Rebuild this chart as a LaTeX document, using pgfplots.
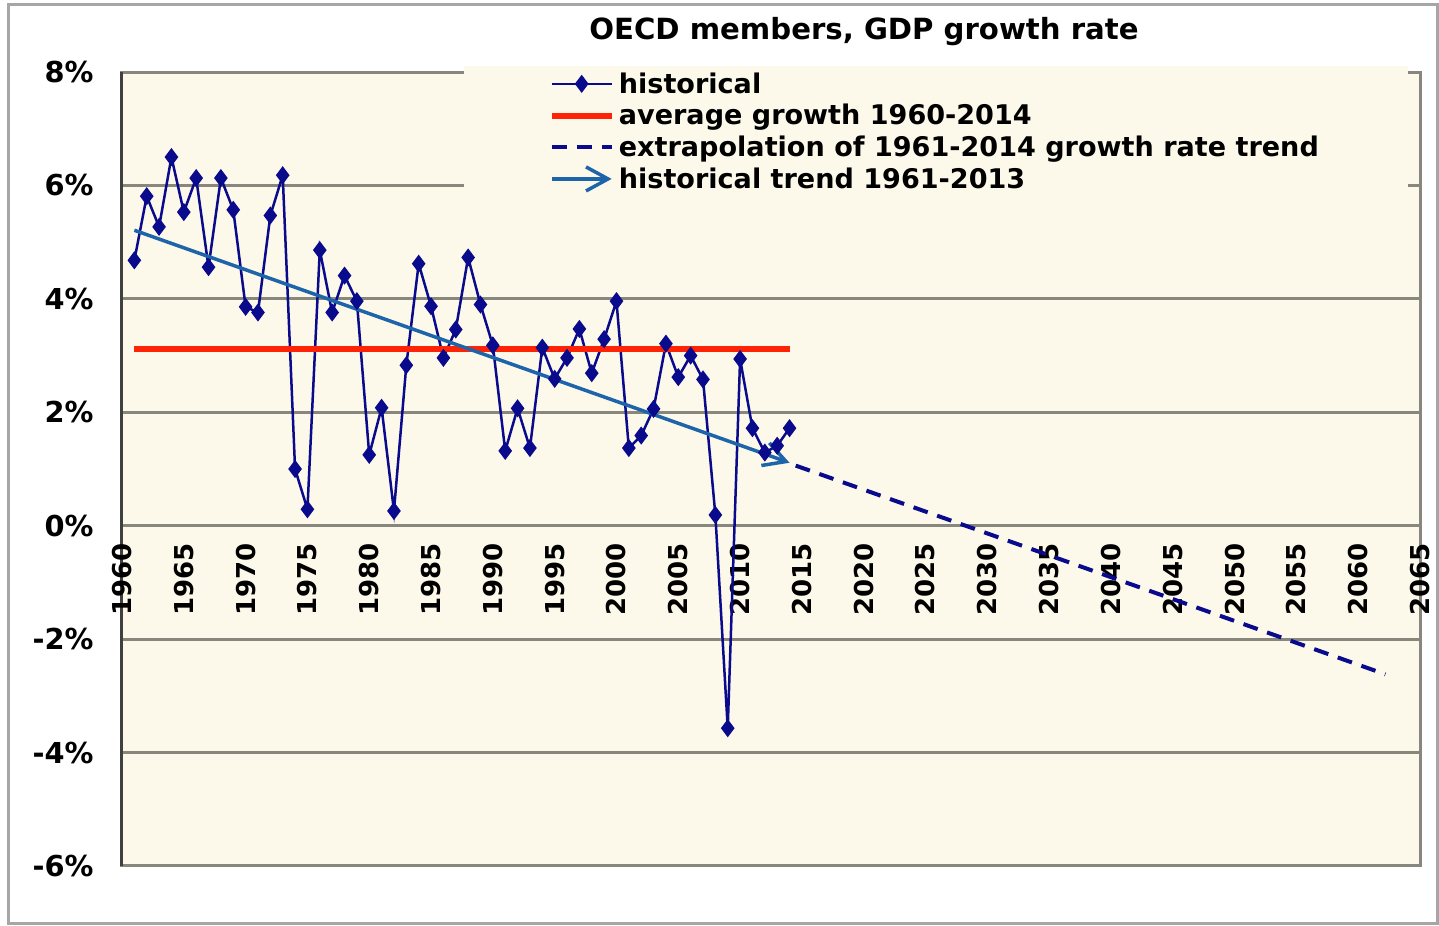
\documentclass[border=0pt]{standalone}
\usepackage{fontspec}
\setmainfont{DejaVu Sans}
\usepackage{pgfplots}
\pgfplotsset{compat=1.18}
\usetikzlibrary{arrows.meta}

\definecolor{navy}{RGB}{10,10,140}
\definecolor{avgred}{RGB}{255,35,5}
\definecolor{trendblue}{RGB}{30,100,170}
\definecolor{cream}{RGB}{253,249,234}
\definecolor{gridgray}{RGB}{135,135,125}

\pgfplotstableread{
year growth
1961 4.68
1962 5.81
1963 5.27
1964 6.50
1965 5.53
1966 6.13
1967 4.56
1968 6.13
1969 5.57
1970 3.86
1971 3.76
1972 5.47
1973 6.18
1974 1.00
1975 0.29
1976 4.86
1977 3.76
1978 4.41
1979 3.96
1980 1.25
1981 2.08
1982 0.26
1983 2.83
1984 4.62
1985 3.87
1986 2.96
1987 3.46
1988 4.73
1989 3.90
1990 3.18
1991 1.32
1992 2.07
1993 1.37
1994 3.14
1995 2.59
1996 2.96
1997 3.47
1998 2.69
1999 3.29
2000 3.96
2001 1.37
2002 1.59
2003 2.06
2004 3.21
2005 2.62
2006 3.00
2007 2.58
2008 0.19
2009 -3.57
2010 2.94
2011 1.72
2012 1.29
2013 1.41
2014 1.72
}\gdp

\begin{document}
\begin{tikzpicture}
\useasboundingbox (0,0) rectangle (143.9mm,92.6mm);
\draw[gray!70, line width=0.3mm] (0.9mm,0.2mm) rectangle (143.7mm,92.1mm);
\node[font=\bfseries\fontsize{8.3}{10}\selectfont] at (86.4mm,89.4mm) {OECD members, GDP growth rate};

\begin{axis}[
  at={(12.2mm,6.0mm)}, anchor=south west,
  scale only axis, width=129.8mm, height=79.4mm,
  xmin=1960, xmax=2065, ymin=-6, ymax=8,
  axis x line=middle, axis y line=left,
  axis line style={-},
  hide obscured x ticks=false,
  x axis line style={draw=gridgray, line width=0.3mm},
  y axis line style={draw=black!75, line width=0.3mm},
  axis background/.style={fill=cream, draw=gridgray, line width=0.3mm},
  ymajorgrids, grid style={gridgray, line width=0.3mm},
  major tick length=0pt,
  xtick={1960,1965,...,2065},
  xticklabels={1960,1965,1970,1975,1980,1985,1990,1995,2000,2005,2010,2015,2020,2025,2030,2035,2040,2045,2050,2055,2060,2065},
  ytick={-6,-4,-2,0,2,4,6,8},
  yticklabels={-6\%,-4\%,-2\%,0\%,2\%,4\%,6\%,8\%},
  x tick label style={rotate=90, anchor=east, font=\bfseries\fontsize{7.4}{8}\selectfont, xshift=-0.5mm},
  y tick label style={font=\bfseries\fontsize{8.2}{9}\selectfont, xshift=-1.6mm},
  legend style={at={(0.2627,1.0088)}, anchor=north west, fill=cream, draw=none,
    font=\bfseries\fontsize{7.7}{8}\selectfont, inner xsep=8.5mm, inner ysep=0pt,
    nodes={inner xsep=0.4mm, inner ysep=0pt, text height=0.78em, text depth=0.25em},
    row sep=-0.45mm},
  legend cell align=left,
  clip=false,
]

\addplot[navy, line width=0.25mm, mark=diamond*, mark size=2pt] table[x=year, y=growth] {\gdp};
\addlegendentry{historical}

\addplot[avgred, line width=0.6mm] coordinates {(1961,3.12) (2014,3.12)};
\addlegendentry{average growth 1960-2014}

\addplot[navy, line width=0.4mm, dash pattern=on 1.5mm off 1mm] coordinates {(2014.5,1.06) (2062.2,-2.62)};
\addlegendentry{extrapolation of 1961-2014 growth rate trend}

\addplot[trendblue, line width=0.35mm, -{Straight Barb[length=2.2mm, width=2.4mm]}] coordinates {(1961,5.21) (2014,1.11)};
\addlegendentry{historical trend 1961-2013}

\end{axis}
\end{tikzpicture}
\end{document}
